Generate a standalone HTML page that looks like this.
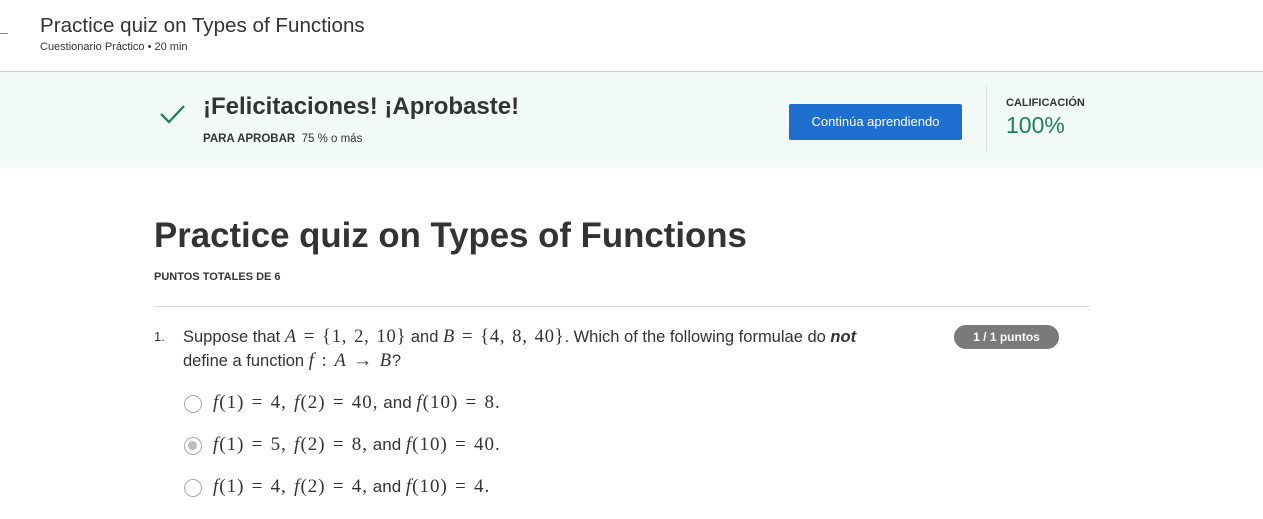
<!DOCTYPE html>
<html><head><meta charset="utf-8"><style>
*{margin:0;padding:0;box-sizing:border-box}
body{width:1263px;height:519px;background:#fff;position:relative;overflow:hidden;font-family:"Liberation Sans",sans-serif;color:#333}
.a{position:absolute;white-space:nowrap}
.m{font-family:"Liberation Serif",serif;font-size:18.5px;letter-spacing:0.8px;word-spacing:1.5px}
.o .m{font-size:19px;letter-spacing:1px}
.m i{font-style:italic}
.r{position:absolute;left:184px;width:18px;height:18px;border:1.5px solid #aaa;border-radius:50%;background:#fff}
</style></head><body>
<div class="a" style="left:0;top:33px;width:8px;height:1px;background:#888"></div>
<div class="a" style="left:40px;top:14px;font-size:20.6px;color:#333">Practice quiz on Types of Functions</div>
<div class="a" style="left:40px;top:41px;font-size:11px;color:#333">Cuestionario Práctico • 20 min</div>
<div class="a" style="left:0;top:71px;width:1263px;height:1px;background:#c8c8c8"></div>
<div class="a" style="left:0;top:72px;width:1263px;height:95px;background:#f2faf8"></div>
<svg class="a" style="left:158px;top:100px" width="30" height="28"><path d="M3 14 L11 22 L26 6" stroke="#1f8354" stroke-width="2.3" fill="none"/></svg>
<div class="a" style="left:203px;top:93px;font-size:24px;font-weight:bold;color:#333">¡Felicitaciones! ¡Aprobaste!</div>
<div class="a" style="left:203px;top:133px;font-size:11.5px"><b>PARA APROBAR</b>&nbsp; 75 % o más</div>
<div class="a" style="left:789px;top:104px;width:173px;height:36px;background:#1f6fd1;border-radius:2px;color:#fff;font-size:13px;text-align:center;line-height:36px">Continúa aprendiendo</div>
<div class="a" style="left:986px;top:86px;width:1px;height:67px;background:#ddd"></div>
<div class="a" style="left:1006px;top:97px;font-size:11px;font-weight:bold">CALIFICACIÓN</div>
<div class="a" style="left:1006px;top:112px;font-size:23px;color:#1f8354">100%</div>
<div class="a" style="left:154px;top:216px;font-size:34.8px;font-weight:bold;color:#333">Practice quiz on Types of Functions</div>
<div class="a" style="left:154px;top:271px;font-size:11px;font-weight:bold">PUNTOS TOTALES DE 6</div>
<div class="a" style="left:154px;top:306px;width:936px;height:1px;background:#ddd"></div>
<div class="a" style="left:154px;top:329px;font-size:13px">1.</div>
<div class="a" style="left:183px;top:325px;font-size:16.5px;line-height:24px">Suppose that <span class="m"><i>A</i> = {1, 2, 10}</span> and <span class="m"><i>B</i> = {4, 8, 40}</span>. Which of the following formulae do <b><i>not</i></b><br>define a function <span class="m"><i>f</i> : <i>A</i> → <i>B</i></span>?</div>
<div class="a" style="left:954px;top:325px;width:105px;height:24px;background:#7a7a7a;border-radius:12px;color:#fff;font-size:12px;font-weight:bold;text-align:center;line-height:24px">1 / 1 puntos</div>
<div class="r" style="top:395px"></div>
<div class="r" style="top:437px"><div style="position:absolute;left:3px;top:3px;width:9px;height:9px;border-radius:50%;background:#bbb"></div></div>
<div class="r" style="top:479px"></div>
<div class="a o" style="left:213px;top:392px;font-size:17px"><span class="m"><i>f</i>(1) = 4, <i>f</i>(2) = 40,</span> and <span class="m"><i>f</i>(10) = 8.</span></div>
<div class="a o" style="left:213px;top:434px;font-size:17px"><span class="m"><i>f</i>(1) = 5, <i>f</i>(2) = 8,</span> and <span class="m"><i>f</i>(10) = 40.</span></div>
<div class="a o" style="left:213px;top:476px;font-size:17px"><span class="m"><i>f</i>(1) = 4, <i>f</i>(2) = 4,</span> and <span class="m"><i>f</i>(10) = 4.</span></div>
</body></html>
